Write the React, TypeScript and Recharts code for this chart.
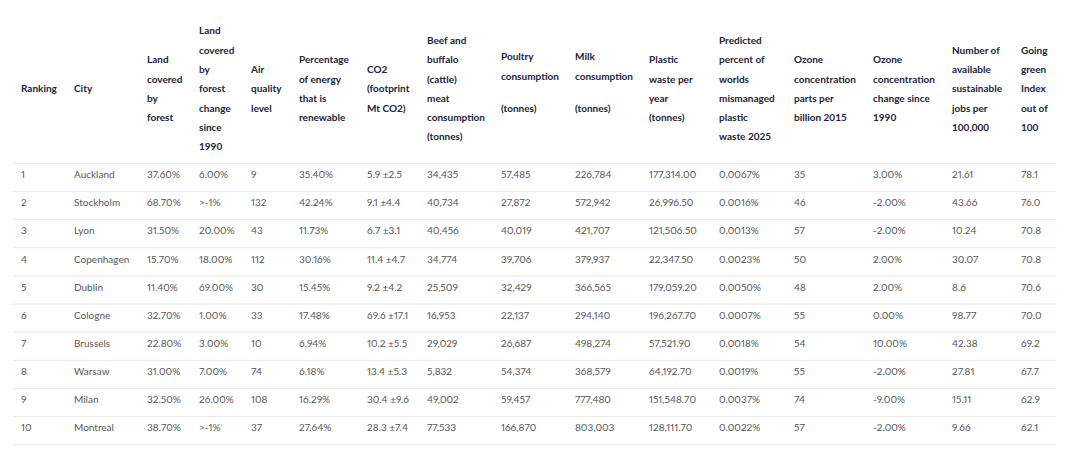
import { ScatterChart, Scatter, XAxis, YAxis, ReferenceLine } from "recharts";

const RANKING = [1, 2, 3, 4, 5, 6, 7, 8, 9, 10];
const CITIES = ["Auckland", "Stockholm", "Lyon", "Copenhagen", "Dublin", "Cologne", "Brussels", "Warsaw", "Milan", "Montreal"];
const FOREST_COVER = [37.6, 68.7, 31.5, 15.7, 11.4, 32.7, 22.8, 31.0, 32.5, 38.7];
const FOREST_CHANGE = ["6.00%", ">-1%", "20.00%", "18.00%", "69.00%", "1.00%", "3.00%", "7.00%", "26.00%", ">-1%"];
const AIR_QUALITY = [9, 132, 43, 112, 30, 33, 10, 74, 108, 37];
const RENEWABLE = [35.4, 42.24, 11.73, 30.16, 15.45, 17.48, 6.94, 6.18, 16.29, 27.64];
const CO2 = [5.9, 9.1, 6.7, 11.4, 9.2, 69.6, 10.2, 13.4, 30.4, 28.3];
const CO2_ERR = [2.5, 4.4, 3.1, 4.7, 4.2, 17.1, 5.5, 5.3, 9.6, 7.4];
const BEEF = [34435, 40734, 40456, 34774, 25509, 16953, 29029, 5832, 49002, 77533];
const POULTRY = [57485, 27872, 40019, 39706, 32429, 22137, 26687, 54374, 59457, 166870];
const MILK = [226784, 572942, 421707, 379937, 366565, 294140, 498274, 368579, 777480, 803003];
const PLASTIC = [177314.0, 26996.5, 121506.5, 22347.5, 179059.2, 196267.7, 57521.9, 64192.7, 151548.7, 128111.7];
const MISMANAGED = [0.0067, 0.0016, 0.0013, 0.0023, 0.005, 0.0007, 0.0018, 0.0019, 0.0037, 0.0022];
const OZONE_2015 = [35, 46, 57, 50, 48, 55, 54, 55, 74, 57];
const OZONE_CHANGE = [3, -2, -2, 2, 2, 0, 10, -2, -9, -2];
const JOBS = [21.61, 43.66, 10.24, 30.07, 8.6, 98.77, 42.38, 27.81, 15.11, 9.66];
const GREEN_INDEX = [78.1, 76.0, 70.8, 70.8, 70.6, 70.0, 69.2, 67.7, 62.9, 62.1];

const HEADERS = [
  ["Ranking"],
  ["City"],
  ["Land", "covered", "by", "forest"],
  ["Land", "covered", "by", "forest", "change", "since", "1990"],
  ["Air", "quality", "level"],
  ["Percentage", "of energy", "that is", "renewable"],
  ["CO2", "(footprint", "Mt CO2)"],
  ["Beef and", "buffalo", "(cattle)", "meat", "consumption", "(tonnes)"],
  ["Poultry", "consumption", "", "(tonnes)"],
  ["Milk", "consumption", "", "(tonnes)"],
  ["Plastic", "waste per", "year", "(tonnes)"],
  ["Predicted", "percent of", "worlds", "mismanaged", "plastic", "waste 2025"],
  ["Ozone", "concentration", "parts per", "billion 2015"],
  ["Ozone", "concentration", "change since", "1990"],
  ["Number of", "available", "sustainable", "jobs per", "100,000"],
  ["Going", "green", "Index", "out of", "100"],
];

// layout
const COL_X = [21, 74, 147, 199, 251, 299, 367, 427, 501, 575, 649, 719, 794, 873, 952, 1021];
const W = 1080;
const H = 453;
const TOP = 163.3;
const ROW_H = 28.15;
const HEADER_CENTER = 88.7;
const LINE_H = 19.3;
const BLANK_H = 12.7;
const TEXT_OFFSET = 0.4;
const FONT = "Lato, 'Open Sans', sans-serif";

const pct = (v: number, d: number) => v.toFixed(d) + "%";
const int = (v: number) => v.toLocaleString("en-US");
const dec2 = (v: number) => v.toLocaleString("en-US", { minimumFractionDigits: 2, maximumFractionDigits: 2 });

const COLUMNS: string[][] = [
  RANKING.map(String),
  CITIES,
  FOREST_COVER.map((v) => pct(v, 2)),
  FOREST_CHANGE,
  AIR_QUALITY.map(String),
  RENEWABLE.map((v) => pct(v, 2)),
  CO2.map((v, i) => `${v} ±${CO2_ERR[i]}`),
  BEEF.map(int),
  POULTRY.map(int),
  MILK.map(int),
  PLASTIC.map(dec2),
  MISMANAGED.map((v) => pct(v, 4)),
  OZONE_2015.map(String),
  OZONE_CHANGE.map((v) => pct(v, 2)),
  JOBS.map(String),
  GREEN_INDEX.map((v) => v.toFixed(1)),
];

const D0 = -TOP / ROW_H;
const D1 = (H - TOP) / ROW_H;
const headerY = (HEADER_CENTER - TOP) / ROW_H;

const headerData = HEADERS.map((lines, c) => ({ x: COL_X[c], y: headerY, lines }));
const cellData = COLUMNS.map((col, c) => col.map((text, r) => ({ x: COL_X[c], y: r + TEXT_OFFSET, text })));
const gridRows = Array.from({ length: RANKING.length + 1 }, (_, i) => i);

function HeaderCell(props: any) {
  const { cx, cy, payload } = props;
  const lines: string[] = payload.lines;
  const blanks = lines.filter((l) => l === "").length;
  const span = (lines.length - 1 - blanks) * LINE_H + blanks * BLANK_H;
  let y = cy - span / 2 - blanks * 6.3;
  const out: { t: string; y: number }[] = [];
  lines.forEach((l, i) => {
    if (l === "") {
      y += BLANK_H;
      return;
    }
    out.push({ t: l, y });
    if (i < lines.length - 1) y += LINE_H;
  });
  return (
    <g>
      {out.map((o, i) => (
        <text key={i} x={cx} y={o.y} dy="0.35em" fontFamily={FONT} fontSize={10} fontWeight={700} fill="#23233a">
          {o.t}
        </text>
      ))}
    </g>
  );
}

function BodyCell(props: any) {
  const { cx, cy, payload } = props;
  return (
    <text
      x={cx}
      y={cy}
      dy="0.35em"
      fontFamily={FONT}
      fontSize={10}
      fill="#575757"
      style={{ fontVariantNumeric: "proportional-nums" }}
    >
      {payload.text}
    </text>
  );
}

export default function App() {
  return (
    <div style={{ position: "absolute", left: 0, top: 0, width: W, height: H, background: "#fff" }}>
      <ScatterChart width={W} height={H} margin={{ top: 0, right: 0, bottom: 0, left: 0 }}>
        <XAxis type="number" dataKey="x" domain={[0, W]} hide allowDataOverflow />
        <YAxis type="number" dataKey="y" domain={[D0, D1]} reversed hide allowDataOverflow />
        {gridRows.map((r) => (
          <ReferenceLine
            key={r}
            segment={[
              { x: 13, y: r },
              { x: 1056, y: r },
            ]}
            stroke="#e8e8e8"
            strokeWidth={1}
          />
        ))}
        <Scatter data={headerData} shape={HeaderCell} isAnimationActive={false} />
        {cellData.map((d, c) => (
          <Scatter key={c} data={d} shape={BodyCell} isAnimationActive={false} />
        ))}
      </ScatterChart>
    </div>
  );
}
